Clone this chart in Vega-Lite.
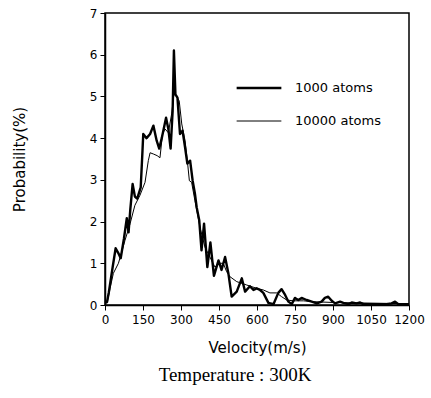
{
  "$schema": "https://vega.github.io/schema/vega-lite/v6.json",
  "autosize": {"type": "none"},
  "width": 304,
  "height": 292,
  "padding": {"left": 105, "top": 13, "right": 22, "bottom": 93},
  "background": "white",
  "title": {"text": "Temperature : 300K", "orient": "bottom", "font": "Liberation Serif", "fontSize": 19, "fontWeight": "normal", "color": "black", "offset": 11, "anchor": "middle", "dx": -22},
  "config": {
    "view": {"stroke": "black", "strokeWidth": 1.5},
    "axis": {"grid": false, "domainColor": "black", "domainWidth": 1.5, "tickColor": "black", "labelColor": "black", "titleColor": "black", "labelFont": "DejaVu Sans", "titleFont": "DejaVu Sans", "labelFontSize": 12, "titleFontSize": 15, "titleFontWeight": "normal", "tickSize": 5, "labelOverlap": false, "labelFlush": false}
  },
  "data": {"values": [
    {"v": 0, "p": 0.05, "s": "1000 atoms"},
    {"v": 8, "p": 0.07, "s": "1000 atoms"},
    {"v": 15, "p": 0.3, "s": "1000 atoms"},
    {"v": 30, "p": 0.9, "s": "1000 atoms"},
    {"v": 42, "p": 1.36, "s": "1000 atoms"},
    {"v": 52, "p": 1.25, "s": "1000 atoms"},
    {"v": 62, "p": 1.12, "s": "1000 atoms"},
    {"v": 75, "p": 1.6, "s": "1000 atoms"},
    {"v": 86, "p": 2.08, "s": "1000 atoms"},
    {"v": 93, "p": 1.74, "s": "1000 atoms"},
    {"v": 100, "p": 2.3, "s": "1000 atoms"},
    {"v": 109, "p": 2.9, "s": "1000 atoms"},
    {"v": 118, "p": 2.6, "s": "1000 atoms"},
    {"v": 127, "p": 2.55, "s": "1000 atoms"},
    {"v": 141, "p": 2.82, "s": "1000 atoms"},
    {"v": 148, "p": 3.7, "s": "1000 atoms"},
    {"v": 151, "p": 4.1, "s": "1000 atoms"},
    {"v": 164, "p": 4.0, "s": "1000 atoms"},
    {"v": 178, "p": 4.1, "s": "1000 atoms"},
    {"v": 191, "p": 4.3, "s": "1000 atoms"},
    {"v": 204, "p": 3.94, "s": "1000 atoms"},
    {"v": 214, "p": 3.75, "s": "1000 atoms"},
    {"v": 224, "p": 4.0, "s": "1000 atoms"},
    {"v": 241, "p": 4.49, "s": "1000 atoms"},
    {"v": 250, "p": 4.22, "s": "1000 atoms"},
    {"v": 259, "p": 3.75, "s": "1000 atoms"},
    {"v": 267, "p": 4.65, "s": "1000 atoms"},
    {"v": 272, "p": 6.1, "s": "1000 atoms"},
    {"v": 278, "p": 5.05, "s": "1000 atoms"},
    {"v": 286, "p": 4.97, "s": "1000 atoms"},
    {"v": 296, "p": 4.1, "s": "1000 atoms"},
    {"v": 306, "p": 4.18, "s": "1000 atoms"},
    {"v": 316, "p": 3.78, "s": "1000 atoms"},
    {"v": 325, "p": 3.39, "s": "1000 atoms"},
    {"v": 336, "p": 3.46, "s": "1000 atoms"},
    {"v": 346, "p": 2.98, "s": "1000 atoms"},
    {"v": 355, "p": 2.67, "s": "1000 atoms"},
    {"v": 362, "p": 2.34, "s": "1000 atoms"},
    {"v": 372, "p": 2.03, "s": "1000 atoms"},
    {"v": 381, "p": 1.31, "s": "1000 atoms"},
    {"v": 391, "p": 1.95, "s": "1000 atoms"},
    {"v": 404, "p": 0.91, "s": "1000 atoms"},
    {"v": 416, "p": 1.5, "s": "1000 atoms"},
    {"v": 430, "p": 0.7, "s": "1000 atoms"},
    {"v": 448, "p": 1.07, "s": "1000 atoms"},
    {"v": 460, "p": 0.84, "s": "1000 atoms"},
    {"v": 474, "p": 1.15, "s": "1000 atoms"},
    {"v": 487, "p": 0.76, "s": "1000 atoms"},
    {"v": 500, "p": 0.2, "s": "1000 atoms"},
    {"v": 520, "p": 0.32, "s": "1000 atoms"},
    {"v": 540, "p": 0.64, "s": "1000 atoms"},
    {"v": 553, "p": 0.32, "s": "1000 atoms"},
    {"v": 572, "p": 0.45, "s": "1000 atoms"},
    {"v": 586, "p": 0.36, "s": "1000 atoms"},
    {"v": 599, "p": 0.4, "s": "1000 atoms"},
    {"v": 612, "p": 0.36, "s": "1000 atoms"},
    {"v": 625, "p": 0.29, "s": "1000 atoms"},
    {"v": 645, "p": 0.05, "s": "1000 atoms"},
    {"v": 665, "p": 0.02, "s": "1000 atoms"},
    {"v": 684, "p": 0.29, "s": "1000 atoms"},
    {"v": 697, "p": 0.38, "s": "1000 atoms"},
    {"v": 711, "p": 0.24, "s": "1000 atoms"},
    {"v": 724, "p": 0.08, "s": "1000 atoms"},
    {"v": 737, "p": 0.02, "s": "1000 atoms"},
    {"v": 750, "p": 0.17, "s": "1000 atoms"},
    {"v": 763, "p": 0.12, "s": "1000 atoms"},
    {"v": 776, "p": 0.17, "s": "1000 atoms"},
    {"v": 796, "p": 0.12, "s": "1000 atoms"},
    {"v": 816, "p": 0.08, "s": "1000 atoms"},
    {"v": 836, "p": 0.04, "s": "1000 atoms"},
    {"v": 855, "p": 0.08, "s": "1000 atoms"},
    {"v": 868, "p": 0.17, "s": "1000 atoms"},
    {"v": 881, "p": 0.2, "s": "1000 atoms"},
    {"v": 895, "p": 0.1, "s": "1000 atoms"},
    {"v": 908, "p": 0.04, "s": "1000 atoms"},
    {"v": 928, "p": 0.08, "s": "1000 atoms"},
    {"v": 941, "p": 0.05, "s": "1000 atoms"},
    {"v": 961, "p": 0.02, "s": "1000 atoms"},
    {"v": 974, "p": 0.06, "s": "1000 atoms"},
    {"v": 993, "p": 0.04, "s": "1000 atoms"},
    {"v": 1007, "p": 0.06, "s": "1000 atoms"},
    {"v": 1020, "p": 0.02, "s": "1000 atoms"},
    {"v": 1040, "p": 0.02, "s": "1000 atoms"},
    {"v": 1072, "p": 0.02, "s": "1000 atoms"},
    {"v": 1112, "p": 0.02, "s": "1000 atoms"},
    {"v": 1131, "p": 0.04, "s": "1000 atoms"},
    {"v": 1145, "p": 0.08, "s": "1000 atoms"},
    {"v": 1158, "p": 0.02, "s": "1000 atoms"},
    {"v": 1200, "p": 0.02, "s": "1000 atoms"},
    {"v": 0, "p": 0.02, "s": "10000 atoms"},
    {"v": 10, "p": 0.1, "s": "10000 atoms"},
    {"v": 20, "p": 0.4, "s": "10000 atoms"},
    {"v": 33, "p": 0.76, "s": "10000 atoms"},
    {"v": 53, "p": 1.0, "s": "10000 atoms"},
    {"v": 65, "p": 1.25, "s": "10000 atoms"},
    {"v": 79, "p": 1.55, "s": "10000 atoms"},
    {"v": 99, "p": 1.95, "s": "10000 atoms"},
    {"v": 118, "p": 2.39, "s": "10000 atoms"},
    {"v": 138, "p": 2.63, "s": "10000 atoms"},
    {"v": 158, "p": 2.94, "s": "10000 atoms"},
    {"v": 171, "p": 3.46, "s": "10000 atoms"},
    {"v": 178, "p": 3.65, "s": "10000 atoms"},
    {"v": 191, "p": 3.62, "s": "10000 atoms"},
    {"v": 206, "p": 3.58, "s": "10000 atoms"},
    {"v": 217, "p": 3.53, "s": "10000 atoms"},
    {"v": 227, "p": 4.1, "s": "10000 atoms"},
    {"v": 237, "p": 4.22, "s": "10000 atoms"},
    {"v": 250, "p": 4.13, "s": "10000 atoms"},
    {"v": 263, "p": 4.58, "s": "10000 atoms"},
    {"v": 272, "p": 5.05, "s": "10000 atoms"},
    {"v": 283, "p": 5.0, "s": "10000 atoms"},
    {"v": 293, "p": 4.89, "s": "10000 atoms"},
    {"v": 303, "p": 4.34, "s": "10000 atoms"},
    {"v": 316, "p": 3.94, "s": "10000 atoms"},
    {"v": 325, "p": 3.46, "s": "10000 atoms"},
    {"v": 333, "p": 2.98, "s": "10000 atoms"},
    {"v": 342, "p": 2.94, "s": "10000 atoms"},
    {"v": 355, "p": 2.5, "s": "10000 atoms"},
    {"v": 375, "p": 1.86, "s": "10000 atoms"},
    {"v": 395, "p": 1.38, "s": "10000 atoms"},
    {"v": 414, "p": 1.15, "s": "10000 atoms"},
    {"v": 434, "p": 0.91, "s": "10000 atoms"},
    {"v": 450, "p": 1.0, "s": "10000 atoms"},
    {"v": 467, "p": 1.0, "s": "10000 atoms"},
    {"v": 480, "p": 0.8, "s": "10000 atoms"},
    {"v": 493, "p": 0.68, "s": "10000 atoms"},
    {"v": 520, "p": 0.56, "s": "10000 atoms"},
    {"v": 559, "p": 0.48, "s": "10000 atoms"},
    {"v": 599, "p": 0.4, "s": "10000 atoms"},
    {"v": 625, "p": 0.36, "s": "10000 atoms"},
    {"v": 651, "p": 0.29, "s": "10000 atoms"},
    {"v": 678, "p": 0.29, "s": "10000 atoms"},
    {"v": 697, "p": 0.2, "s": "10000 atoms"},
    {"v": 717, "p": 0.12, "s": "10000 atoms"},
    {"v": 743, "p": 0.1, "s": "10000 atoms"},
    {"v": 783, "p": 0.1, "s": "10000 atoms"},
    {"v": 822, "p": 0.08, "s": "10000 atoms"},
    {"v": 900, "p": 0.06, "s": "10000 atoms"},
    {"v": 1000, "p": 0.05, "s": "10000 atoms"},
    {"v": 1100, "p": 0.04, "s": "10000 atoms"},
    {"v": 1200, "p": 0.03, "s": "10000 atoms"}
  ]},
  "mark": {"type": "line", "color": "black", "strokeJoin": "round"},
  "encoding": {
    "x": {"field": "v", "type": "quantitative", "title": "Velocity(m/s)", "scale": {"domain": [0, 1200], "nice": false}, "axis": {"values": [0, 150, 300, 450, 600, 750, 900, 1050, 1200], "format": "d", "labelPadding": 4, "titlePadding": 15}},
    "y": {"field": "p", "type": "quantitative", "title": "Probability(%)", "scale": {"domain": [0, 7], "nice": false}, "axis": {"values": [0, 1, 2, 3, 4, 5, 6, 7], "labelPadding": 3, "titlePadding": 62}},
    "strokeWidth": {"field": "s", "type": "nominal", "scale": {"domain": ["1000 atoms", "10000 atoms"], "range": [2.4, 1]},
      "legend": {"title": null, "orient": "none", "legendX": 130, "legendY": 51, "symbolType": "stroke", "symbolSize": 2000, "symbolStrokeColor": "black", "labelFont": "DejaVu Sans", "labelFontSize": 13, "labelColor": "black", "labelOffset": 12, "rowPadding": 3}}
  }
}
